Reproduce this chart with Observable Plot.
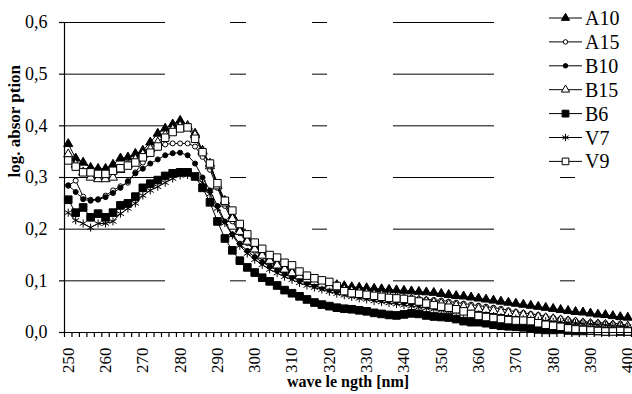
<!DOCTYPE html>
<html><head><meta charset="utf-8">
<script src="https://cdn.jsdelivr.net/npm/d3@7"></script>
<script src="https://cdn.jsdelivr.net/npm/@observablehq/plot@0.6"></script>
<style>
html,body{margin:0;padding:0;background:#fff;}
#wrap{position:relative;width:632px;height:394px;overflow:hidden;}
#legend{position:absolute;left:548px;top:5px;width:84px;height:167px;background:#fff;}
svg{font-family:"Liberation Serif","Times New Roman",serif;}
</style></head><body><div id="wrap"><div id="legend"></div></div>
<script>
// wavelength categories [nm]
const wavelengths = [250,252,254,256,258,260,262,264,266,268,270,272,274,276,278,280,282,284,286,288,
290,292,294,296,298,300,302,304,306,308,310,312,314,316,318,320,322,324,326,328,
330,332,334,336,338,340,342,344,346,348,350,352,354,356,358,360,362,364,366,368,
370,372,374,376,378,380,382,384,386,388,390,392,394,396,398,400];

const seriesNames = ["A10","A15","B10","B15","B6","V7","V9"];

const A10 = [0.365,0.337,0.329,0.319,0.317,0.317,0.325,0.337,0.339,0.346,
0.352,0.368,0.385,0.395,0.403,0.410,0.400,0.385,0.352,0.327,
0.284,0.255,0.225,0.200,0.180,0.165,0.152,0.142,0.133,0.125,
0.118,0.112,0.107,0.102,0.098,0.095,0.092,0.090,0.088,0.087,
0.086,0.085,0.084,0.083,0.082,0.081,0.080,0.079,0.078,0.077,
0.075,0.073,0.071,0.070,0.068,0.066,0.064,0.062,0.060,0.058,
0.056,0.054,0.052,0.050,0.048,0.046,0.044,0.042,0.040,0.039,
0.037,0.035,0.034,0.032,0.030,0.029];

const A15 = [0.284,0.294,0.263,0.257,0.258,0.265,0.275,0.283,0.290,0.310,
0.329,0.346,0.358,0.364,0.366,0.366,0.366,0.360,0.340,0.315,
0.280,0.245,0.215,0.192,0.173,0.158,0.146,0.136,0.127,0.120,
0.113,0.107,0.102,0.097,0.093,0.089,0.086,0.083,0.080,0.078,
0.076,0.074,0.072,0.071,0.069,0.068,0.067,0.065,0.064,0.063,
0.062,0.060,0.058,0.056,0.054,0.052,0.050,0.048,0.046,0.043,
0.040,0.038,0.036,0.034,0.031,0.029,0.027,0.025,0.023,0.021,
0.020,0.019,0.018,0.017,0.017,0.013];

const B10 = [0.285,0.272,0.258,0.255,0.257,0.262,0.270,0.280,0.293,0.308,
0.317,0.327,0.335,0.343,0.347,0.348,0.343,0.327,0.300,0.275,
0.245,0.215,0.190,0.172,0.158,0.146,0.136,0.128,0.120,0.113,
0.107,0.101,0.096,0.091,0.087,0.083,0.080,0.077,0.074,0.071,
0.069,0.067,0.065,0.063,0.061,0.059,0.057,0.055,0.053,0.051,
0.050,0.048,0.046,0.044,0.042,0.040,0.038,0.036,0.035,0.033,
0.031,0.030,0.028,0.026,0.025,0.023,0.022,0.020,0.019,0.018,
0.017,0.016,0.015,0.014,0.013,0.012];

const B15 = [0.345,0.325,0.310,0.300,0.297,0.297,0.300,0.315,0.325,0.335,
0.345,0.355,0.368,0.382,0.393,0.400,0.398,0.382,0.350,0.322,
0.283,0.250,0.220,0.195,0.176,0.161,0.149,0.139,0.130,0.122,
0.115,0.109,0.103,0.098,0.093,0.089,0.086,0.083,0.080,0.078,
0.076,0.074,0.072,0.070,0.068,0.066,0.064,0.062,0.060,0.058,
0.056,0.054,0.052,0.050,0.048,0.046,0.044,0.042,0.040,0.038,
0.036,0.034,0.032,0.030,0.028,0.026,0.024,0.022,0.020,0.018,
0.017,0.016,0.015,0.014,0.013,0.012];

const B6 = [0.257,0.232,0.242,0.223,0.230,0.223,0.232,0.246,0.250,0.263,
0.280,0.288,0.295,0.303,0.308,0.310,0.310,0.302,0.280,0.252,
0.215,0.182,0.159,0.139,0.126,0.116,0.106,0.099,0.091,0.082,
0.076,0.070,0.064,0.058,0.054,0.051,0.048,0.046,0.045,0.043,
0.041,0.038,0.036,0.034,0.033,0.035,0.037,0.036,0.033,0.031,
0.030,0.029,0.026,0.022,0.020,0.020,0.018,0.015,0.013,0.012,
0.011,0.010,0.008,0.006,0.005,0.005,0.006,0.004,0.003,0.003,
0.004,0.003,0.002,0.003,0.002,0.002];

const V7 = [0.232,0.217,0.211,0.203,0.211,0.211,0.215,0.230,0.240,0.250,
0.265,0.275,0.282,0.290,0.298,0.304,0.305,0.302,0.290,0.268,
0.240,0.212,0.188,0.168,0.153,0.141,0.131,0.122,0.115,0.108,
0.102,0.096,0.091,0.087,0.083,0.079,0.075,0.072,0.069,0.066,
0.064,0.061,0.059,0.057,0.055,0.053,0.051,0.049,0.047,0.045,
0.043,0.041,0.040,0.038,0.036,0.035,0.033,0.032,0.030,0.029,
0.027,0.026,0.025,0.023,0.022,0.021,0.020,0.019,0.018,0.017,
0.016,0.015,0.014,0.013,0.012,0.011];

const V9 = [0.333,0.321,0.310,0.310,0.307,0.307,0.313,0.318,0.323,0.329,
0.339,0.348,0.360,0.377,0.388,0.395,0.397,0.375,0.349,0.327,
0.289,0.255,0.236,0.210,0.190,0.174,0.162,0.150,0.145,0.135,
0.130,0.118,0.110,0.105,0.101,0.098,0.090,0.080,0.076,0.075,
0.073,0.071,0.069,0.067,0.066,0.065,0.063,0.060,0.056,0.053,
0.050,0.048,0.045,0.041,0.036,0.032,0.030,0.028,0.026,0.024,
0.023,0.023,0.022,0.018,0.015,0.013,0.011,0.008,0.006,0.005,
0.004,0.003,0.002,0.002,0.003,0.002];

const yTicks = [0, 0.1, 0.2, 0.3, 0.4, 0.5, 0.6];
const xTickLabels = [250,260,270,280,290,300,310,320,330,340,350,360,370,380,390,400];
const xTickMarks = [249,251,253,255,257,259,261,263,265,267,269,271,273,275,277,279,281,283,285,287,289,
291,293,295,297,299,301,303,305,307,309,311,313,315,317,319,321,323,325,327,329,331,333,335,337,339,
341,343,345,347,349,351,353,355,357,359,361,363,365,367,369,371,373,375,377,379,381,383,385,387,389,
391,393,395,397,399,401];

const seriesValues = [A10, A15, B10, B15, B6, V7, V9];
// marker styles
const styles = {
  A10: {symbol: "triangle", fill: "black", r: 3.4},
  A15: {symbol: "circle", fill: "white", r: 2.5},
  B10: {symbol: "circle", fill: "black", r: 2.5},
  B15: {symbol: "triangle", fill: "white", r: 3.4},
  B6:  {symbol: "square", fill: "black", r: 4.3},
  V7:  {symbol: "asterisk", fill: "none", r: 3.8},
  V9:  {symbol: "square", fill: "white", r: 4.2}
};

const rows = seriesNames.map((s, j) => wavelengths.map((w, i) => ({series: s, w, v: seriesValues[j][i]})));

const fmt = d => d.toFixed(1).replace(".", ",");

const seriesMarks = rows.flatMap((data, j) => {
  const st = styles[seriesNames[j]];
  return [
    Plot.line(data, {x: "w", y: "v", stroke: "black", strokeWidth: 1}),
    Plot.dot(data, {x: "w", y: "v", symbol: st.symbol, r: st.r, fill: st.fill, stroke: "black", strokeWidth: 1})
  ];
});

const chart = Plot.plot({
  width: 632,
  height: 394,
  marginLeft: 64,
  marginRight: 1,
  marginTop: 22,
  marginBottom: 62,
  style: {fontFamily: '"Liberation Serif", "Times New Roman", serif', fontSize: "18px", color: "black", background: "white"},
  x: {domain: [249, 401]},
  y: {domain: [0, 0.6]},
  marks: [
    Plot.ruleY(yTicks.filter(d => d > 0), {stroke: "black", strokeWidth: 1, strokeDasharray: "101,65,16,66,15,66,101,66,15,300"}),
    ...seriesMarks,
    Plot.ruleX([249], {stroke: "black", strokeWidth: 1.2}),
    Plot.ruleY([0], {stroke: "black", strokeWidth: 1.2}),
    Plot.axisY(yTicks, {tickSize: 5, tickPadding: 12, tickFormat: fmt, fontSize: 18, label: null, strokeWidth: 1.2}),
    Plot.axisX(xTickMarks, {tickSize: 5, tickFormat: () => "", label: null, strokeWidth: 1.2}),
    Plot.axisX(xTickLabels, {tickSize: 0, tickPadding: 15, tickRotate: -90, fontSize: 17, label: null}),
    Plot.text(["log. absor ption"], {text: d => d, frameAnchor: "left", dx: -50, rotate: -90, fontWeight: "bold", fontSize: 17}),
    Plot.text(["wave le ngth [nm]"], {text: d => d, frameAnchor: "bottom", dy: 54, fontWeight: "bold", fontSize: 16})
  ]
});
document.getElementById("wrap").prepend(chart);

// legend overlay
const lg = d3.select("#legend").append("svg").attr("width", 84).attr("height", 167)
  .style("font-family", '"Liberation Serif", "Times New Roman", serif');
seriesNames.forEach((s, i) => {
  const st = styles[s];
  const y = 13 + i * 23.9;
  const g = lg.append("g").attr("transform", `translate(0,${y})`);
  g.append("line").attr("x1", 1).attr("x2", 34).attr("y1", 0).attr("y2", 0).attr("stroke", "black");
  const sym = {triangle: d3.symbolTriangle, circle: d3.symbolCircle, square: d3.symbolSquare, asterisk: d3.symbolAsterisk}[st.symbol];
  g.append("path").attr("transform", "translate(17.5,0)")
    .attr("d", d3.symbol(sym, Math.PI * st.r * st.r * 0.8)())
    .attr("fill", st.fill).attr("stroke", "black");
  g.append("text").attr("x", 37).attr("y", 0).attr("dy", "0.35em").attr("font-size", 20).text(s);
});
</script>
</body></html>
